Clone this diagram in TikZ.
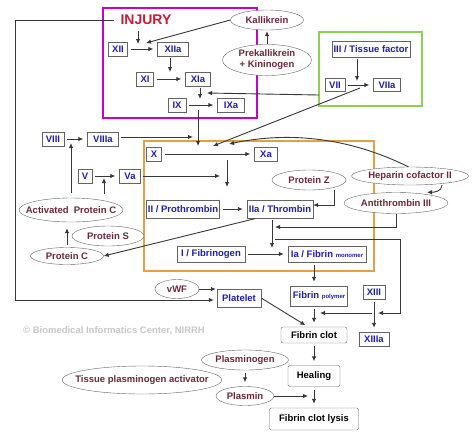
\documentclass[tikz,border=0pt]{standalone}
\usepackage{fontspec}
\setmainfont{Liberation Sans}
\usetikzlibrary{arrows.meta,shapes.geometric}
\definecolor{facblue}{RGB}{30,30,190}
\definecolor{enzred}{RGB}{110,40,55}
\definecolor{injred}{RGB}{205,25,55}
\definecolor{boxgray}{RGB}{100,100,100}
\definecolor{linegray}{RGB}{55,55,55}
\definecolor{wmgray}{RGB}{200,200,200}
\definecolor{intmag}{RGB}{200,0,200}
\definecolor{extgreen}{RGB}{140,210,80}
\definecolor{comorange}{RGB}{230,160,60}
\newcommand{\enztext}[1]{\makebox[0pt]{#1}}
\newcommand{\subtag}[1]{{\fontsize{6}{7}\selectfont #1}}

\begin{document}
\begin{tikzpicture}[x=1pt,y=-1pt,
  every node/.style={font=\bfseries\fontsize{9.5}{11}\selectfont},
  fac/.style={draw=boxgray, fill=white, text=facblue, inner sep=1pt, minimum height=14},
  enz/.style={ellipse, draw=boxgray, fill=white, text=enzred, inner sep=0pt},
  stage/.style={draw=boxgray, fill=white, rounded corners=2pt, inner sep=1pt},
  arr/.style={draw=linegray, line width=0.9pt, -{Latex[length=5pt,width=4.5pt]}},
  gap/.style={shorten <=3pt, shorten >=4pt},
  from/.style={shorten <=2pt},
  frame/.style={line width=1.2pt}]
\fill[white] (0,0) rectangle (474,437);
\useasboundingbox (0,0) rectangle (474,437);

\draw[frame, intmag] (103,8) rectangle (257,118);
\draw[frame, extgreen] (319,32) rectangle (422,106);
\draw[frame, comorange] (144,141) rectangle (374,271);

\node[text=injred, font=\bfseries\fontsize{14}{16}\selectfont] (injury) at (146,20) {INJURY};
\node[enz, minimum width=73, minimum height=20] (kall) at (267,20) {\enztext{Kallikrein}};
\node[enz, minimum width=89, minimum height=29] (prek) at (267,60) {\enztext{\begin{tabular}{@{}c@{}}Prekallikrein\\+ Kininogen\end{tabular}}};
\node[fac, minimum width=19] (xii) at (118,49) {XII};
\node[fac, minimum width=31] (xiia) at (173,49) {XIIa};
\node[fac, minimum width=17] (xi) at (145,79) {XI};
\node[fac, minimum width=25] (xia) at (198,79) {XIa};
\node[fac, minimum width=18] (ix) at (177,105) {IX};
\node[fac, minimum width=27] (ixa) at (231,105) {IXa};
\node[fac, minimum width=78, minimum height=16] (iii) at (371,49) {III / Tissue factor};
\node[fac, minimum width=20, minimum height=13] (vii) at (335,85) {VII};
\node[fac, minimum width=27, minimum height=13] (viia) at (387,85) {VIIa};
\node[fac, minimum width=22] (viii) at (53,139) {VIII};
\node[fac, minimum width=31] (viiia) at (103,139) {VIIIa};
\node[fac, minimum width=14] (v) at (85,176) {V};
\node[fac, minimum width=21] (va) at (130,176) {Va};
\node[fac, minimum width=15] (x) at (154,154) {X};
\node[fac, minimum width=23] (xa) at (266,154) {Xa};
\node[fac, minimum width=73, minimum height=18] (ii) at (183,209) {II / Prothrombin};
\node[fac, minimum width=66, minimum height=18] (iia) at (280,209) {IIa / Thrombin};
\node[fac, minimum width=68, minimum height=16] (fbg) at (211,254) {I / Fibrinogen};
\node[fac, minimum width=78, minimum height=16] (fbm) at (327,254) {Ia / Fibrin \subtag{monomer}};
\node[fac, minimum width=57, minimum height=20] (fbp) at (319,296) {Fibrin \subtag{polymer}};
\node[fac, minimum width=22] (xiii) at (374,292) {XIII};
\node[fac, minimum width=30] (xiiia) at (374,339) {XIIIa};
\node[fac, minimum width=44, minimum height=18] (plt) at (239,298) {Platelet};
\node[enz, minimum width=104, minimum height=24] (apc) at (71,210) {\enztext{Activated\ \ Protein C}};
\node[enz, minimum width=72, minimum height=20] (prots) at (108,236) {\enztext{Protein S}};
\node[enz, minimum width=73, minimum height=17] (protc) at (67,256) {\enztext{Protein C}};
\node[enz, minimum width=74, minimum height=20] (protz) at (309,180) {\enztext{Protein Z}};
\node[enz, minimum width=117, minimum height=18] (hep) at (410,176) {\enztext{Heparin cofactor II}};
\node[enz, minimum width=104, minimum height=21] (at3) at (396,203) {\enztext{Antithrombin III}};
\node[enz, minimum width=44, minimum height=19] (vwf) at (177,289) {\enztext{vWF}};
\node[stage, minimum width=66, minimum height=16] (clot) at (314,335) {Fibrin clot};
\node[stage, minimum width=52, minimum height=21] (heal) at (314,376) {Healing};
\node[stage, minimum width=89, minimum height=22] (lysis) at (314,419) {Fibrin clot lysis};
\node[enz, minimum width=87, minimum height=20] (plg) at (245,360) {\enztext{Plasminogen}};
\node[enz, minimum width=58, minimum height=19] (plm) at (245,396) {\enztext{Plasmin}};
\node[enz, minimum width=160, minimum height=28] (tpa) at (142,380) {\enztext{Tissue plasminogen activator}};
\node[text=wmgray] (credit) at (114,331) {© Biomedical Informatics Center, NIRRH};

\coordinate (r12a) at (138,44);
\coordinate (r12b) at (146,43);
\coordinate (r11) at (170,72);
\coordinate (r9) at (200,99);
\coordinate (r9b) at (207,93);
\coordinate (r9out) at (198,110);
\coordinate (tfout) at (319,95);
\coordinate (r7in) at (357,81);
\coordinate (r7out) at (360,88);
\coordinate (r10a) at (198,146);
\coordinate (r10b) at (213,146);
\coordinate (r10c) at (193,137);
\coordinate (r10d) at (229,144);
\coordinate (r10out) at (227,160);
\coordinate (r2a) at (227,187);
\coordinate (r2b) at (220,176);
\coordinate (r8) at (71,143);
\coordinate (r5) at (104,178);
\coordinate (r1) at (272,248);
\coordinate (r1a) at (275,227);
\coordinate (r1b) at (275,239);
\coordinate (r13) at (378,313);
\coordinate (r13out) at (372,313);
\coordinate (r14) at (320,313);
\coordinate (r15) at (308,395);
\coordinate (lt) at (15,20);
\coordinate (lb) at (15,300);

\draw[arr, shorten <=3pt] (r12a |- injury.south) -- (r12a);
\draw[arr, shorten <=3pt, shorten >=3pt] (injury.west) -- (lt) -- (lb) -- (lb -| plt.west);
\draw[arr, gap] (xii) -- (xiia);
\draw[arr] (kall.west) -- (r12b);
\draw[arr, shorten >=1pt] (prek) -- (kall);
\draw[arr, from] (xiia.south -| r11) -- (r11);
\draw[arr, gap] (xi) -- (xia);
\draw[arr, from] (xia.south -| r9) -- (r9);
\draw[arr, gap] (ix) -- (ixa);
\draw[arr] (tfout) -- (r9b);
\draw[arr, from] (iii.south -| r7in) -- (r7in);
\draw[arr, gap] (vii) -- (viia);
\draw[arr] (r7out) -- (r10b);
\draw[arr] (r9out) -- (r10a);
\draw[arr, gap] (viii) -- (viiia);
\draw[arr, from] (viiia.east |- r10c) -- (r10c);
\draw[arr, gap] (x) -- (xa);
\draw[arr] (r10out) -- (r2a);
\draw[arr, gap] (v) -- (va);
\draw[arr, from] (va.east) -- (r2b);
\draw[arr, shorten <=5pt] (apc.north -| r8) -- (r8);
\draw[arr, shorten <=4pt] (apc.north -| r5) -- (r5);
\draw[arr, shorten <=2pt, shorten >=6pt] (protc.north) -- (protc.north |- apc.south);
\draw[arr, from] ([xshift=10pt]iia.south west) -- (protc.east);
\draw[arr, gap] (ii) -- (iia);
\draw[arr] ([xshift=25pt]protz.south) |- ([yshift=4pt]iia.east);
\draw[arr] (hep.100) .. controls (350,138) and (290,131) .. (r10d);
\draw[arr] ([xshift=32pt]hep.south) to[out=-90,in=0] ([xshift=31pt]at3.north);
\draw[arr] (at3.south) |- (r1a);
\draw[arr, from] (iia.south -| r1) -- (r1);
\draw[arr] (r1b) -| ([xshift=22pt]r13) -- (r13);
\draw[arr, gap] (fbg) -- (fbm);
\draw[arr, gap] (fbm.south -| clot) -- (fbp.north -| clot);
\draw[arr, gap] (xiii) -- (xiiia);
\draw[arr] (r13out) -- (r14);
\draw[arr, gap] (fbp.south -| clot) -- (clot);
\draw[arr, shorten >=3pt] (plt.east) -- ([xshift=-6pt]clot.north);
\draw[arr, shorten >=1pt] (vwf.east) -- (vwf.east -| plt.west);
\draw[arr, gap] (clot) -- (heal);
\draw[arr, gap] (heal) -- (lysis);
\draw[arr, gap] (plg) -- (plm);
\draw[arr] (plm.east) -- (plm.east -| r15);
\end{tikzpicture}
\end{document}
